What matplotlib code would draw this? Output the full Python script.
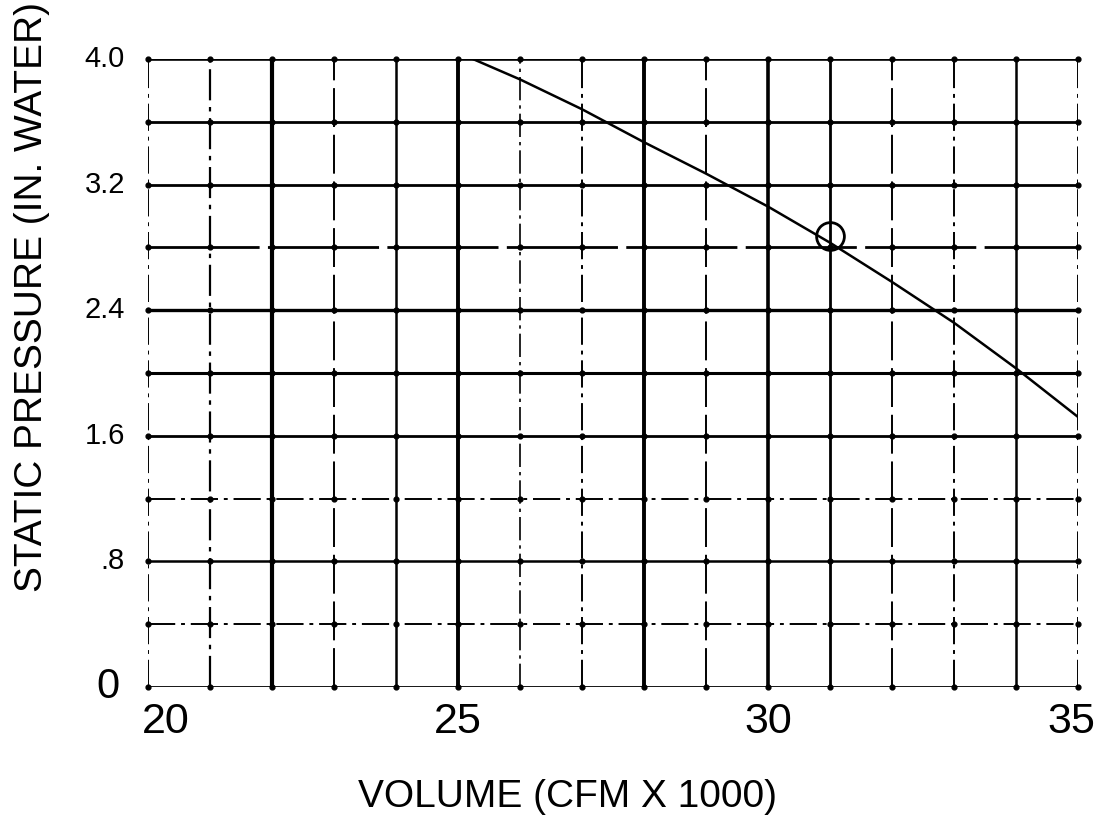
import matplotlib
matplotlib.use("Agg")
import matplotlib.pyplot as plt
import matplotlib.transforms as mtransforms

plt.rcParams['font.family'] = ['Liberation Sans', 'DejaVu Sans']

# ---- data ----
volume = [25.24, 26.0, 27.0, 28.0, 29.0, 30.0, 31.0, 32.0, 33.0, 34.0, 35.0]
pressure = [4.0, 3.87, 3.68, 3.47, 3.27, 3.06, 2.83, 2.58, 2.32, 2.03, 1.72]
op_volume = [31.0]
op_pressure = [2.87]

x_grid = list(range(20, 36))
y_grid = [0.0, 0.4, 0.8, 1.2, 1.6, 2.0, 2.4, 2.8, 3.2, 3.6, 4.0]
x_ticks = [20, 25, 30, 35]
x_ticklabels = ["20", "25", "30", "35"]
y_ticks = [0.0, 0.8, 1.6, 2.4, 3.2, 4.0]
y_ticklabels = ["0", ".8", "1.6", "2.4", "3.2", "4.0"]

# ---- styles (scan-like grid) ----
dd = (0, (14, 3, 2, 3))
da = (0, (20, 4))
ld = (0, (40, 3))
x_styles = [dd, dd, '-', da, '-', '-', dd, dd, '-', da, '-', '-', da, dd, '-', dd]
x_widths = [1.4, 1.6, 3.0, 1.4, 1.8, 2.8, 1.2, 1.4, 2.8, 1.4, 2.6, 2.0, 1.4, 1.4, 1.8, 1.4]
y_styles = ['-', dd, '-', dd, '-', '-', '-', ld, '-', '-', '-']
y_widths = [2.0, 1.4, 1.8, 1.4, 2.0, 2.2, 2.4, 2.0, 2.0, 2.0, 2.6]

fig = plt.figure(figsize=(11.02, 8.23), dpi=100)
ax = fig.add_axes([148 / 1102, 1 - 687 / 823, (1078 - 148) / 1102, (687 - 59) / 823])
ax.set_xlim(20, 35)
ax.set_ylim(0, 4.0)
for s in ax.spines.values():
    s.set_visible(False)

for xv, ls, lw in zip(x_grid, x_styles, x_widths):
    ax.axvline(xv, color='black', linestyle=ls, linewidth=lw, zorder=1)
for yv, ls, lw in zip(y_grid, y_styles, y_widths):
    ax.axhline(yv, color='black', linestyle=ls, linewidth=lw, zorder=1)

# intersection dots
gx = [xv for xv in x_grid for _ in y_grid]
gy = [yv for _ in x_grid for yv in y_grid]
ax.scatter(gx, gy, s=12, color='black', zorder=2, clip_on=False)

ax.plot(volume, pressure, color='black', linewidth=1.8, zorder=3)
ax.plot(op_volume, op_pressure, marker='o', markersize=20, markerfacecolor='none',
        markeredgecolor='black', markeredgewidth=2.0, linestyle='none', zorder=4)

ax.set_xticks([])
ax.set_yticks([])

# tick labels
tx = mtransforms.blended_transform_factory(ax.transData, fig.transFigure)
x_offsets = [0.29, 0.0, 0.0, -0.1]
for xv, lab, off in zip(x_ticks, x_ticklabels, x_offsets):
    ax.text(xv + off, 1 - 722 / 823, lab, transform=tx, fontsize=31,
            ha='center', va='center')
ty = mtransforms.blended_transform_factory(fig.transFigure, ax.transData)
for yv, lab in zip(y_ticks, y_ticklabels):
    if lab == "0":
        ax.text(119 / 1102, yv, lab, transform=ty, fontsize=30, ha='right', va='center')
    else:
        ax.text(125 / 1102, yv, lab, transform=ty, fontsize=21, ha='right', va='center')

fig.text(568 / 1102, 1 - 797 / 823, "VOLUME (CFM X 1000)", fontsize=28,
         ha='center', va='center')
fig.text(32 / 1102, 1 - 297 / 823, "STATIC PRESSURE (IN. WATER)", fontsize=28,
         ha='center', va='center', rotation=90)

fig.savefig("out.png", dpi=100)
